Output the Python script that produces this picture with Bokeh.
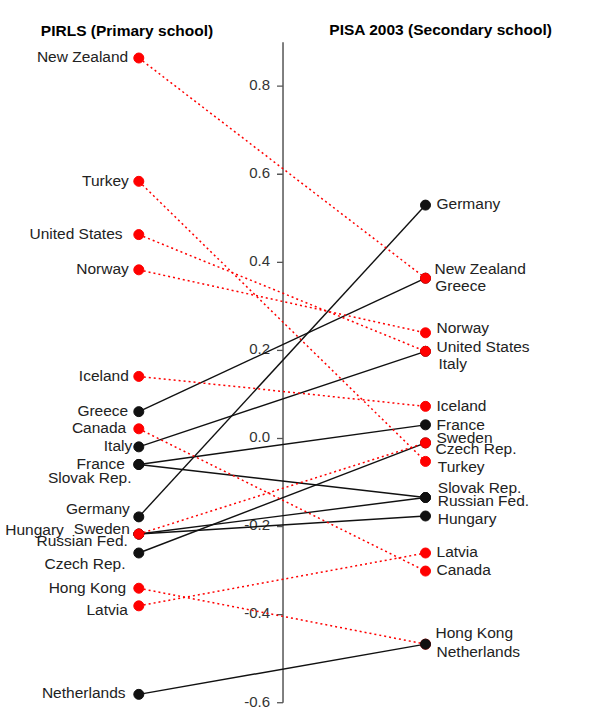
from bokeh.plotting import figure
from bokeh.models import ColumnDataSource, Range1d
from bokeh.core.properties import value
from bokeh.embed import file_html
from bokeh.resources import INLINE

# ---------------- data ----------------
countries = ["Greece", "Italy", "France", "Slovak Rep.", "Germany", "Hungary",
             "Russian Fed.", "Czech Rep.", "New Zealand", "Turkey", "United States",
             "Norway", "Iceland", "Canada", "Sweden", "Hong Kong", "Latvia", "Netherlands"]
pirls = [0.061, -0.019, -0.059, -0.059, -0.178, -0.217,
         -0.217, -0.260, 0.864, 0.584, 0.463,
         0.383, 0.141, 0.022, -0.217, -0.340, -0.380, -0.581]
pisa = [0.364, 0.198, 0.031, -0.134, 0.530, -0.176,
        -0.134, -0.010, 0.364, -0.052, 0.198,
        0.240, 0.073, -0.301, -0.010, -0.467, -0.260, -0.467]
highlight = [False, False, False, False, False, False,
             False, False, True, True, True,
             True, True, True, True, True, True, False]
column_titles = ["PIRLS (Primary school)", "PISA 2003 (Secondary school)"]
tick_values = [-0.6, -0.4, -0.2, 0.0, 0.2, 0.4, 0.6, 0.8]
tick_labels = ["-0.6", "-0.4", "-0.2", "0.0", "0.2", "0.4", "0.6", "0.8"]

# label nudges in screen pixels (dx, dy; dy positive = down)
left_dx = [-10.6, -6.6, -14, -7.3, -9, -75, -11, -13.3, -10.6, -10, -16.3,
           -10, -10, -12.6, -9, -12.6, -11, -13.3]
left_dy = [0, 0, 0, 14.3, -7, -3, 7.3, 11.7, 0, 0, 0,
           0, 0, 0, -4.4, 0, 4.7, -0.4]
right_dx = [9.7, 13, 11, 12.3, 11, 12.3, 12.3, 10, 9, 12.3, 11,
            11, 11, 11, 11, 10, 11, 11]
right_dy = [8.3, 13, 0.7, -9.3, 0, 3.7, 3.7, 7, -8.4, 6.6, -3.3,
            -4, 0, 0, -4.6, -10.3, 0, 9]
TEXT_SHIFT = -1.2  # small global lift so caps centre on the marker

RED = "#FF0000"
BLACK = "#111111"
FONT = "Liberation Sans"

X_LEFT, X_RIGHT, X_AXIS = 0.0, 1.0, 0.503

p = figure(width=589, height=712, output_backend="svg", toolbar_location=None,
           x_axis_type=None, y_axis_type=None, min_border=0,
           x_range=Range1d(-0.4824, 1.572), y_range=Range1d(-0.6222, 0.9946))
p.grid.visible = False
p.outline_line_color = None
p.background_fill_color = "white"
p.border_fill_color = "white"

# axis
p.segment(x0=[X_AXIS], y0=[tick_values[0]], x1=[X_AXIS], y1=[0.9],
          line_color="#555555", line_width=1.5)
tick_len = 6 / 286.7
p.segment(x0=[X_AXIS - tick_len] * len(tick_values), y0=tick_values,
          x1=[X_AXIS] * len(tick_values), y1=tick_values,
          line_color="#555555", line_width=1.3)
p.text(x=[X_AXIS] * len(tick_values), y=tick_values, text=tick_labels,
       x_offset=-13, y_offset=TEXT_SHIFT, text_align="right", text_baseline="middle",
       text_font=value(FONT), text_font_size="15px", text_color="#333333")

# lines
red_idx = [i for i in range(len(countries)) if highlight[i]]
blk_idx = [i for i in range(len(countries)) if not highlight[i]]
p.segment(x0=[X_LEFT] * len(blk_idx), y0=[pirls[i] for i in blk_idx],
          x1=[X_RIGHT] * len(blk_idx), y1=[pisa[i] for i in blk_idx],
          line_color=BLACK, line_width=1.4)
p.segment(x0=[X_LEFT] * len(red_idx), y0=[pirls[i] for i in red_idx],
          x1=[X_RIGHT] * len(red_idx), y1=[pisa[i] for i in red_idx],
          line_color=RED, line_width=1.5, line_dash="2 3")

colors = [RED if h else BLACK for h in highlight]
src = ColumnDataSource(dict(country=countries, pirls=pirls, pisa=pisa,
                            xl=[X_LEFT] * len(countries), xr=[X_RIGHT] * len(countries),
                            color=colors, ldx=left_dx,
                            ldy=[d + TEXT_SHIFT for d in left_dy],
                            rdx=right_dx,
                            rdy=[d + TEXT_SHIFT for d in right_dy]))
p.scatter(x="xl", y="pirls", source=src, size=10, fill_color="color",
          line_color="color")
p.scatter(x="xr", y="pisa", source=src, size=10, fill_color="color",
          line_color="color")

# labels
p.text(x="xl", y="pirls", text="country", source=src, x_offset="ldx", y_offset="ldy",
       text_align="right", text_baseline="middle", text_font=value(FONT),
       text_font_size="15.5px", text_color="#222222")
p.text(x="xr", y="pisa", text="country", source=src, x_offset="rdx", y_offset="rdy",
       text_align="left", text_baseline="middle", text_font=value(FONT),
       text_font_size="15.5px", text_color="#222222")

# column titles
p.text(x=[X_LEFT - 0.0412, X_RIGHT + 0.0536], y=[0.9248, 0.9263], text=column_titles,
       y_offset=TEXT_SHIFT, text_align="center", text_baseline="middle",
       text_font=value(FONT), text_font_size="15.5px", text_font_style="bold",
       text_color="#000000")

open("out.html", "w").write(file_html(p, INLINE))
